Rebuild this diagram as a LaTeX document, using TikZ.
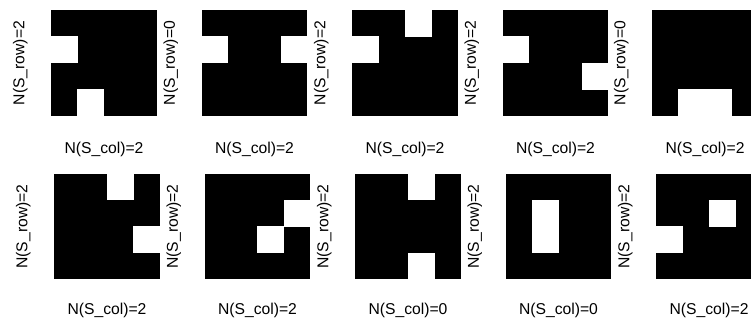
\documentclass[tikz,border=0pt]{standalone}
\usepackage{fontspec}
\setmainfont{Liberation Sans}

\newcommand{\hole}[3]{\fill[white] ([xshift=#3*26.4bp-0.3bp,yshift=-#2*26.4bp+0.3bp]#1.north west) rectangle ++(27bp,-27bp);}

\tikzset{
  panel/.style={fill=black, minimum size=105.6bp, inner sep=0pt, outer sep=0pt},
  rowlab/.style={rotate=90, inner sep=0pt, font=\fontsize{15.7bp}{18bp}\selectfont},
  collab/.style={inner sep=0pt, font=\fontsize{15.7bp}{18bp}\selectfont}
}

\begin{document}
\begin{tikzpicture}[x=1bp, y=1bp]
      \clip (0,0) rectangle (751,326);

      \node[panel] (p1) at (104,263) {};
      \node[panel] (p2) at (254.5,263) {};
      \node[panel] (p3) at (405,263) {};
      \node[panel] (p4) at (555.5,263) {};
      \node[panel] (p5) at (705,263) {};
      \node[panel] (p6) at (107,99.5) {};
      \node[panel] (p7) at (257.5,99.5) {};
      \node[panel] (p8) at (408,99.5) {};
      \node[panel] (p9) at (558.5,99.5) {};
      \node[panel] (p10) at (709,99.5) {};

      \hole{p1}{1}{0} \hole{p1}{3}{1}
      \hole{p2}{1}{0} \hole{p2}{1}{3}
      \hole{p3}{0}{2} \hole{p3}{1}{0}
      \hole{p4}{1}{0} \hole{p4}{2}{3}
      \hole{p5}{3}{1} \hole{p5}{3}{2}
      \hole{p6}{0}{2} \hole{p6}{2}{3}
      \hole{p7}{1}{3} \hole{p7}{2}{2}
      \hole{p8}{0}{2} \hole{p8}{3}{2}
      \hole{p9}{1}{1} \hole{p9}{2}{1}
      \hole{p10}{1}{2} \hole{p10}{2}{0}

      \node[rowlab] (r1) at ([xshift=-31bp]p1.west) {N(S\_row)=2};
      \node[rowlab] (r2) at ([xshift=-31bp]p2.west) {N(S\_row)=0};
      \node[rowlab] (r3) at ([xshift=-31bp]p3.west) {N(S\_row)=2};
      \node[rowlab] (r4) at ([xshift=-31bp]p4.west) {N(S\_row)=2};
      \node[rowlab] (r5) at ([xshift=-31bp]p5.west) {N(S\_row)=0};
      \node[rowlab] (r6) at ([xshift=-31bp]p6.west) {N(S\_row)=2};
      \node[rowlab] (r7) at ([xshift=-31bp]p7.west) {N(S\_row)=2};
      \node[rowlab] (r8) at ([xshift=-31bp]p8.west) {N(S\_row)=2};
      \node[rowlab] (r9) at ([xshift=-31bp]p9.west) {N(S\_row)=2};
      \node[rowlab] (r10) at ([xshift=-31bp]p10.west) {N(S\_row)=2};

      \node[collab] (c1) at ([yshift=-33.5bp]p1.south) {N(S\_col)=2};
      \node[collab] (c2) at ([yshift=-33.5bp]p2.south) {N(S\_col)=2};
      \node[collab] (c3) at ([yshift=-33.5bp]p3.south) {N(S\_col)=2};
      \node[collab] (c4) at ([yshift=-33.5bp]p4.south) {N(S\_col)=2};
      \node[collab] (c5) at ([yshift=-33.5bp]p5.south) {N(S\_col)=2};
      \node[collab] (c6) at ([yshift=-31bp]p6.south) {N(S\_col)=2};
      \node[collab] (c7) at ([yshift=-31bp]p7.south) {N(S\_col)=2};
      \node[collab] (c8) at ([yshift=-31bp]p8.south) {N(S\_col)=0};
      \node[collab] (c9) at ([yshift=-31bp]p9.south) {N(S\_col)=0};
      \node[collab] (c10) at ([yshift=-31bp]p10.south) {N(S\_col)=2};
\end{tikzpicture}
\end{document}
